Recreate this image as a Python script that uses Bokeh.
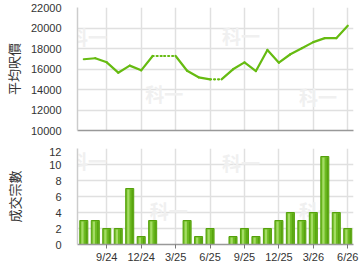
import math
from bokeh.plotting import figure
from bokeh.layouts import column
from bokeh.models import FixedTicker, Range1d, ColumnDataSource
from bokeh.core.properties import value
from bokeh.embed import file_html
from bokeh.resources import INLINE

months = ["7/24", "8/24", "9/24", "10/24", "11/24", "12/24", "1/25", "2/25", "3/25",
          "4/25", "5/25", "6/25", "7/25", "8/25", "9/25", "10/25", "11/25", "12/25",
          "1/26", "2/26", "3/26", "4/26", "5/26", "6/26"]
avg_price = [16950, 17050, 16650, 15640, 16330, 15870, 17270, None, None,
             15830, 15190, 14990, None, 15970, 16650, 15800, 17860, 16620,
             17440, 18030, 18620, 19010, 19010, 20220]
deals = [3, 3, 2, 2, 7, 1, 3, 0, 0, 3, 1, 2, 0, 1, 2, 1, 2, 3, 4, 3, 4, 11, 4, 2]
tick_labels = ["9/24", "12/24", "3/25", "6/25", "9/25", "12/25", "3/26", "6/26"]
price_ticks = [10000, 12000, 14000, 16000, 18000, 20000, 22000]
deal_ticks = [0, 2, 4, 6, 8, 10, 12]
watermark = "科一"

idx = list(range(len(months)))
tick_pos = [months.index(t) for t in tick_labels]

LINE = "#66bb11"
GRID = "#e0e0e0"
TXT = "#333333"
FONT = "Liberation Sans"
CJK = "Noto Sans CJK TC"
XR = (-0.55, 23.5)

# forward-filled price and segments (dotted where month has no data)
filled = []
last = None
for v in avg_price:
    if v is not None:
        last = v
    filled.append(last)
seg = dict(x0=[], y0=[], x1=[], y1=[])
dot = dict(x0=[], y0=[], x1=[], y1=[])
for i in range(len(idx) - 1):
    d = dot if avg_price[i + 1] is None else seg
    d["x0"].append(idx[i]); d["y0"].append(filled[i])
    d["x1"].append(idx[i + 1]); d["y1"].append(filled[i + 1])


def style(p, yticks, label, lstand):
    p.outline_line_color = None
    p.background_fill_color = "white"
    p.border_fill_color = "white"
    p.xgrid.ticker = FixedTicker(ticks=tick_pos)
    p.ygrid.ticker = FixedTicker(ticks=yticks)
    p.xgrid.grid_line_color = GRID
    p.ygrid.grid_line_color = GRID
    p.xgrid.grid_line_width = 1.5
    p.ygrid.grid_line_width = 1.5
    p.yaxis.ticker = FixedTicker(ticks=yticks)
    p.yaxis.axis_line_color = "#cccccc"
    p.yaxis.axis_line_width = 1.5
    p.yaxis.major_tick_line_color = None
    p.yaxis.minor_tick_line_color = None
    p.yaxis.major_label_standoff = 10
    p.yaxis.major_label_text_font = FONT
    p.yaxis.major_label_text_font_size = "11px"
    p.yaxis.major_label_text_color = TXT
    p.yaxis.axis_label = label
    p.yaxis.axis_label_text_font = CJK
    p.yaxis.axis_label_text_font_size = "13px"
    p.yaxis.axis_label_text_font_style = "normal"
    p.yaxis.axis_label_text_color = TXT
    p.yaxis.axis_label_standoff = lstand
    p.xaxis.ticker = FixedTicker(ticks=tick_pos)
    p.xaxis.axis_line_color = "#999999"
    p.xaxis.axis_line_width = 1.5
    p.xaxis.minor_tick_line_color = None
    p.xaxis.major_label_text_font = FONT
    p.xaxis.major_label_text_font_size = "11px"
    p.xaxis.major_label_text_color = TXT


# ---------- top: average price ----------
p1 = figure(width=360, height=147, output_backend="svg", toolbar_location=None,
            x_range=Range1d(*XR), y_range=Range1d(10000, 22000),
            min_border_left=65, min_border_right=7, min_border_top=7, min_border_bottom=17)
style(p1, price_ticks, "平均呎價", 5)
p1.xaxis.major_label_overrides = {tp: "" for tp in tick_pos}
p1.xaxis.major_tick_line_color = None
p1.xaxis.major_label_standoff = 0

p1.text(x=[0.36, 7.0, 13.7, 20.4], y=[19200, 13600, 19300, 13300], text=[watermark] * 4,
        text_font=value(CJK), text_font_size="19px", text_font_style="bold",
        text_color="#f0f0f0", text_align="center", text_baseline="middle")
p1.segment("x0", "y0", "x1", "y1", source=ColumnDataSource(seg), line_color=LINE,
           line_width=2.2, line_cap="round")
p1.segment("x0", "y0", "x1", "y1", source=ColumnDataSource(dot), line_color=LINE,
           line_width=2.2, line_dash="1 3", line_cap="round")

# ---------- bottom: deal count ----------
p2 = figure(width=360, height=123, output_backend="svg", toolbar_location=None,
            x_range=Range1d(*XR), y_range=Range1d(0, 12),
            min_border_left=65, min_border_right=7, min_border_top=1, min_border_bottom=26)
style(p2, deal_ticks, "成交宗數", 22)
p2.xaxis.major_label_overrides = {tp: t for tp, t in zip(tick_pos, tick_labels)}
p2.xaxis.major_tick_line_color = "#777777"
p2.xaxis.major_tick_out = 4
p2.xaxis.major_tick_in = 0
p2.xaxis.major_label_standoff = 2

p2.text(x=[0.36, 7.4, 13.7, 20.4], y=[10.5, 4.2, 10.3, 4.2], text=[watermark] * 4,
        text_font=value(CJK), text_font_size="19px", text_font_style="bold",
        text_color="#f0f0f0", text_align="center", text_baseline="middle")
p2.vbar(x=idx, top=deals, width=0.7, fill_color="#6dbb22", line_color="#55a00c", line_width=1)
p2.vbar(x=[i - 0.12 for i in idx], top=[max(d - 0.12, 0) for d in deals], bottom=0,
        width=0.2, fill_color="#a4dc64", line_color=None)
p2.vbar(x=[i + 0.22 for i in idx], top=[max(d - 0.12, 0) for d in deals], bottom=0,
        width=0.12, fill_color="#57a30f", line_color=None)

layout = column(p1, p2, spacing=0)
open("out.html", "w").write(file_html(layout, INLINE))
